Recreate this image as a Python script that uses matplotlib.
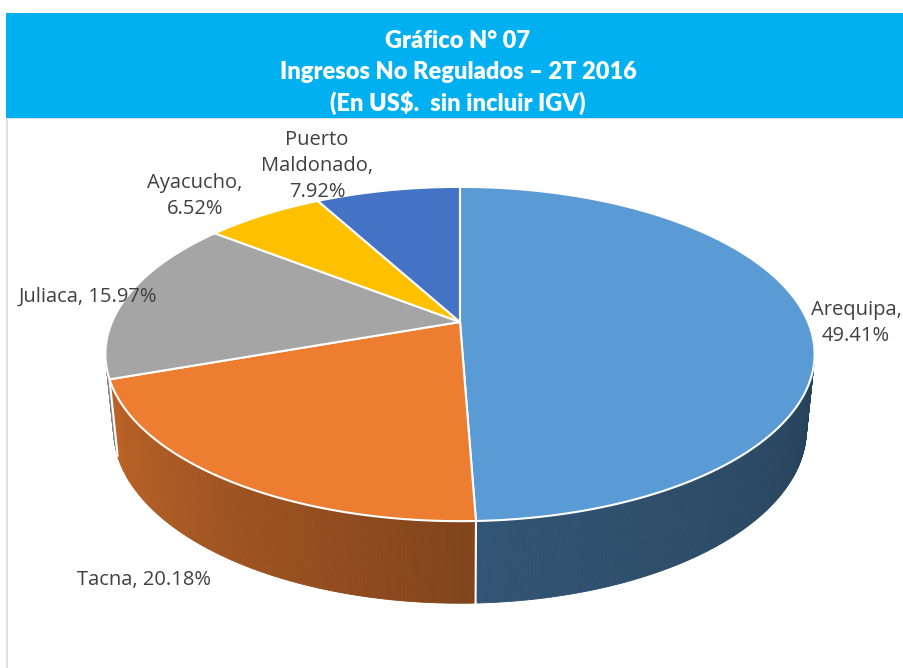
import numpy as np
import matplotlib.pyplot as plt
from matplotlib.patches import Polygon, Rectangle
from matplotlib.collections import PolyCollection
from matplotlib.colors import to_rgb

# data
regions = ['Arequipa', 'Tacna', 'Juliaca', 'Ayacucho', 'Puerto\nMaldonado']
shares = [49.41, 20.18, 15.97, 6.52, 7.92]
colors = ['#5B9BD5', '#ED7D31', '#A5A5A5', '#FFC000', '#4472C4']
title_lines = ['Gráfico N° 07', 'Ingresos No Regulados – 2T 2016', '(En US$.  sin incluir IGV)']

# layout (pixel coords of the figure)
label_pos = [(856, 323), (144, 580), (88, 297), (195, 196), (317, 166)]
CX, CY = 460, 322          # pie apex
A, B, K = 348, 161, 0.1916  # perspective ellipse params
text_color = '#404040'


def proj(theta, bottom=False):
    t = np.radians(theta)
    u, v = np.sin(t), np.cos(t)
    w = 1 + K * v
    x = CX + A * u / w
    y = CY - B * v / w
    if bottom:
        x = CX + 0.977 * (x - CX)
        y = y + 40 + 34 / w
    return x, y


def shade(theta):
    return np.interp(theta, [90, 180, 270], [0.40, 0.55, 0.87])


fig = plt.figure(figsize=(9.04, 6.68), dpi=100)
ax = fig.add_axes([0, 0, 1, 1])
ax.set_xlim(0, 904)
ax.set_ylim(668, 0)
ax.axis('off')

# chart frame + title box
ax.add_patch(Rectangle((7, 118), 920, 600, fc='white', ec='#D9D9D9', lw=1.2, zorder=0))
ax.add_patch(Rectangle((6, 13), 920, 105, fc='#00B0F0', ec='none', zorder=1))
for i, line in enumerate(title_lines):
    ax.text(458, 41 + 31 * i, line, ha='center', va='center', color='white',
            fontsize=17, fontweight='heavy', family='Lato', zorder=2)

bounds = np.concatenate([[0], np.cumsum(shares)]) / sum(shares) * 360

# side walls: small quads sorted far -> near
quads, qcols, depth = [], [], []
for i in range(len(shares)):
    t0, t1 = bounds[i], bounds[i + 1]
    n = max(int((t1 - t0) / 0.5), 2)
    ts = np.linspace(t0, t1, n + 1)
    base = np.array(to_rgb(colors[i]))
    for a, b in zip(ts[:-1], ts[1:]):
        xa, ya = proj(a)
        xb, yb = proj(b)
        xa2, ya2 = proj(a, True)
        xb2, yb2 = proj(b, True)
        quads.append([(xa, ya), (xb, yb), (xb2, yb2), (xa2, ya2)])
        m = (a + b) / 2
        qcols.append(np.clip(base * shade(m if 90 <= m <= 270 else 90), 0, 1))
        depth.append(np.cos(np.radians(m)))
order = np.argsort(depth)[::-1]
pc = PolyCollection([quads[j] for j in order], facecolors=[qcols[j] for j in order],
                    edgecolors=[qcols[j] for j in order], linewidths=0.6, zorder=3)
ax.add_collection(pc)

# white seams on visible walls
for t in bounds:
    if np.cos(np.radians(t)) < -K:
        x1, y1 = proj(t)
        x2, y2 = proj(t, True)
        ax.plot([x1, x2], [y1, y2], color='white', lw=1.5, zorder=4)

# top faces
for i in range(len(shares)):
    ts = np.linspace(bounds[i], bounds[i + 1], 200)
    xs, ys = proj(ts)
    pts = [(CX, CY)] + list(zip(xs, ys))
    ax.add_patch(Polygon(pts, closed=True, fc=colors[i], ec='white', lw=1.5,
                         joinstyle='round', zorder=5))

# labels
for name, val, (lx, ly) in zip(regions, shares, label_pos):
    if name in ('Tacna', 'Juliaca'):
        s = f'{name}, {val:.2f}%'
    else:
        s = f'{name},\n{val:.2f}%'
    ax.text(lx, ly, s, ha='center', va='center', multialignment='center',
            color=text_color, fontsize=14.5, family='Open Sans', linespacing=1.4, zorder=6)

fig.savefig('out.png', dpi=100)
